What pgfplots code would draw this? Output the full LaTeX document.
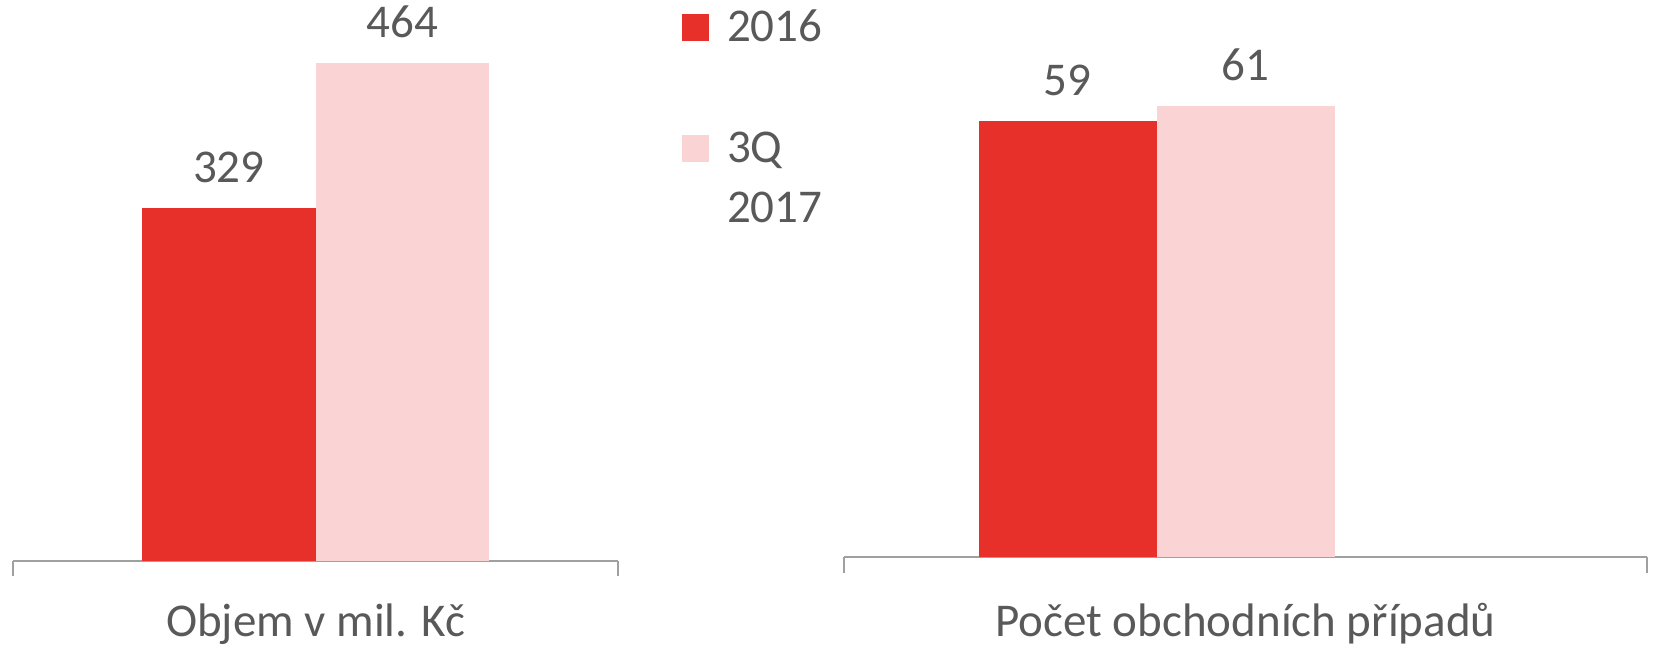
\documentclass[border=0pt]{standalone}
\usepackage{fontspec}
\setmainfont{Carlito}
\usepackage{pgfplots}
\pgfplotsset{compat=1.18}
\definecolor{cred}{HTML}{E8302A}
\definecolor{cpink}{HTML}{FAD4D4}
\definecolor{tgray}{HTML}{595959}
\definecolor{agray}{HTML}{A0A0A0}
\newcommand{\bigfont}{\fontsize{23.5}{30}\selectfont}
\pgfplotsset{sqlegend/.style={legend image code/.code={\fill[##1] (0pt,0pt) rectangle (13.5pt,13.5pt);}}}
\begin{document}
\begin{tikzpicture}
\useasboundingbox (0pt,0pt) rectangle (827pt,322.5pt);
\pgfplotsset{
  base/.style={
    scale only axis, ybar=0pt, ymin=0,
    axis x line*=bottom, axis y line=none,
    x axis line style={-, draw=agray, line width=1pt},
    xtick style={draw=agray, line width=1pt},
    major tick length=7.7pt, tick align=outside,
    xticklabels={{},{}}, ytick=\empty,
    nodes near coords,
    every node near coord/.append style={font=\bigfont, text=tgray, anchor=south, inner sep=0pt, yshift=12.3pt},
    /pgf/number format/assume math mode=true,
    xlabel style={font=\bigfont, text=tgray},
    clip=false,
  }
}
\begin{axis}[base, at={(6.35pt,42.15pt)}, anchor=south west,
  width=302.8pt, height=268pt, xmin=0, xmax=605.6, ymax=500,
  xtick={0,605.6}, bar width=86.75pt,
  xlabel={Objem v mil. Kč},
  xlabel style={at={(axis description cs:0.5,0)}, anchor=base, yshift=-37.65pt},
  legend style={draw=none, fill=none, at={(1.1052,1.036)}, anchor=north west,
    inner sep=0pt, outer sep=0pt, row sep=34pt, font=\bigfont, text=tgray,
    cells={anchor=base west, inner sep=0pt},
    /tikz/every odd column/.append style={column sep=7pt}},
]
\addplot[fill=cred, draw=none, sqlegend] coordinates {(302.8,329)};
\addplot[fill=cpink, draw=none, sqlegend] coordinates {(302.8,464)};
\legend{2016, {\begin{tabular}[t]{@{}l@{}}3Q\\2017\end{tabular}}}
\end{axis}
\begin{axis}[base, at={(422pt,43.85pt)}, anchor=south west,
  width=401.5pt, height=258.9pt, xmin=0, xmax=803, ymax=70,
  xtick={0,803}, bar width=89pt,
  xlabel={Počet obchodních případů},
  xlabel style={at={(axis description cs:0.5,0)}, anchor=base, yshift=-39.35pt},
]
\addplot[fill=cred, draw=none] coordinates {(312.5,59)};
\addplot[fill=cpink, draw=none] coordinates {(312.5,61)};
\end{axis}
\end{tikzpicture}
\end{document}
